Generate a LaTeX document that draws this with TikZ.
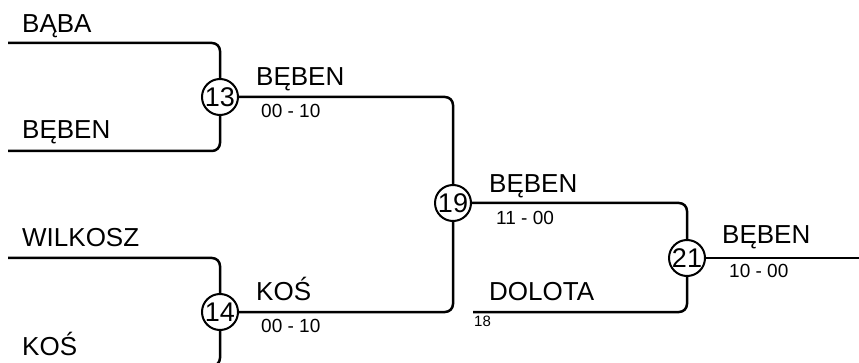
\documentclass[tikz,border=0pt]{standalone}
\usepackage{fontspec}
\setmainfont{Liberation Sans}
\usepackage{tikz}
\usetikzlibrary{positioning,calc}

\begin{document}
\begin{tikzpicture}[
  x=1pt, y=-1pt,
  team/.style={anchor=base west, inner sep=0pt, font=\fontsize{26}{30}\selectfont},
  score/.style={anchor=base west, inner sep=0pt, font=\fontsize{19}{22}\selectfont},
  seed/.style={anchor=base west, inner sep=0pt, font=\fontsize{15}{17}\selectfont},
  game/.style={circle, draw, line width=2pt, minimum size=36pt, inner sep=0pt, fill=white,
    font=\fontsize{27}{30}\selectfont},
  wire/.style={line width=2.5pt, rounded corners=8pt},
]
\useasboundingbox (0,0) rectangle (859,363);
% matches
\node[game] (m13) at (220, 97) {13};
\node[game] (m14) at (220, 312) {14};
\node[game] (m19) at (453, 203) {19};
\node[game] (m21) at (687, 258) {21};
% line ends
\coordinate (pBaba) at (8, 43);
\coordinate (pBeben) at (8, 151);
\coordinate (pWilkosz) at (8, 258);
\coordinate (pKos) at (8, 366);
\coordinate (pDolota) at (473, 312);
\coordinate (win) at (859, 258);
% bracket
\draw[wire] (pBaba) -| (m13);
\draw[wire] (pBeben) -| (m13);
\draw[wire] (pWilkosz) -| (m14);
\draw[wire] (pKos) -| (m14);
\draw[wire] (m13) -| (m19);
\draw[wire] (m14) -| (m19);
\draw[wire] (m19) -| (m21);
\draw[wire] (pDolota) -| (m21);
\draw[wire] (m21) -- (win);
% names
\node[team] (tBaba) at (22, 33) {BĄBA};
\node[team] (tBeben) at (22, 139) {BĘBEN};
\node[team] (tWilkosz) at (22, 247) {WILKOSZ};
\node[team] (tKos) at (22, 355) {KOŚ};
\node[team] (w13) at (256, 86) {BĘBEN};
\node[team] (w14) at (256, 300) {KOŚ};
\node[team] (w19) at (489, 193) {BĘBEN};
\node[team] (tDolota) at (489, 300) {DOLOTA};
\node[team] (w21) at (722, 244) {BĘBEN};
% scores
\node[score] (s13) at (261, 118) {00 - 10};
\node[score] (s14) at (261, 332) {00 - 10};
\node[score] (s19) at (496, 225) {11 - 00};
\node[score] (s21) at (729, 277) {10 - 00};
\node[seed] (n18) at (474, 326) {18};
\end{tikzpicture}
\end{document}
